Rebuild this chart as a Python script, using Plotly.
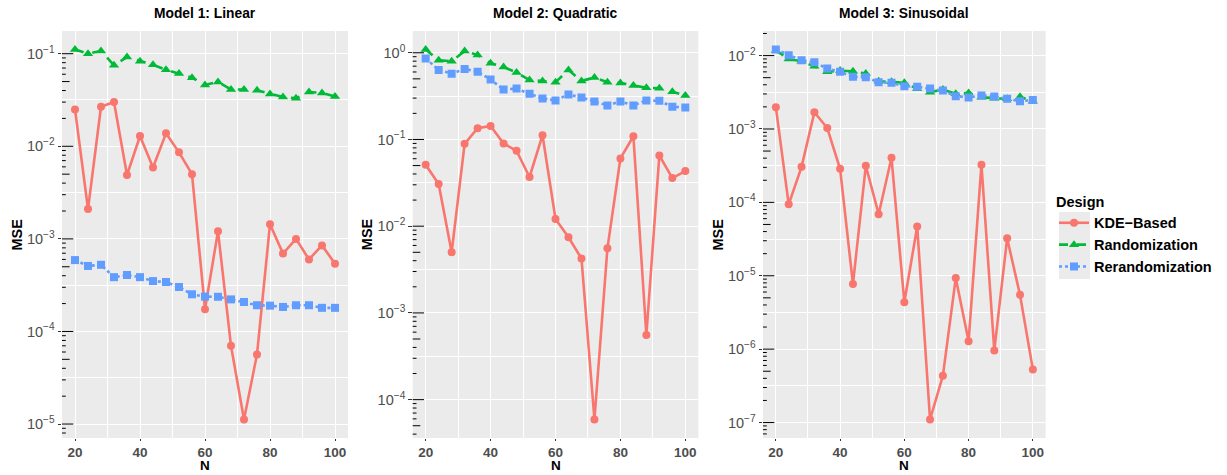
import math
import plotly.graph_objects as go

# ---------------- data ----------------
N = [20, 24, 28, 32, 36, 40, 44, 48, 52, 56, 60, 64, 68, 72, 76, 80, 84, 88, 92, 96, 100]

designs = ["KDE−Based", "Randomization", "Rerandomization"]
panel_titles = ["Model 1: Linear", "Model 2: Quadratic", "Model 3: Sinusoidal"]

linear_kde = [0.025, 0.0021, 0.0267, 0.030, 0.0049, 0.0129, 0.0059, 0.0138, 0.0086, 0.0050,
              1.74e-4, 1.21e-3, 7.0e-5, 1.12e-5, 5.65e-5, 1.44e-3, 6.95e-4, 1.0e-3, 6.0e-4, 8.5e-4, 5.4e-4]
linear_rand = [0.111, 0.100, 0.107, 0.075, 0.092, 0.083, 0.076, 0.067, 0.061, 0.055,
               0.046, 0.0496, 0.041, 0.041, 0.0402, 0.0368, 0.034, 0.033, 0.0386, 0.0377, 0.0345]
linear_rerand = [5.9e-4, 5.1e-4, 5.25e-4, 3.86e-4, 4.07e-4, 3.86e-4, 3.5e-4, 3.42e-4, 3.02e-4, 2.52e-4,
                 2.38e-4, 2.37e-4, 2.22e-4, 2.08e-4, 1.92e-4, 1.9e-4, 1.84e-4, 1.92e-4, 1.92e-4, 1.8e-4, 1.8e-4]

quad_kde = [0.0511, 0.0306, 0.0050, 0.089, 0.135, 0.143, 0.090, 0.074, 0.0369, 0.112,
            0.0121, 0.00745, 0.00424, 5.9e-5, 0.00556, 0.0604, 0.109, 5.56e-4, 0.0653, 0.0359, 0.0432]
quad_rand = [1.09, 0.818, 0.80, 1.045, 0.94, 0.755, 0.686, 0.59, 0.486, 0.473,
             0.457, 0.633, 0.473, 0.517, 0.457, 0.449, 0.418, 0.394, 0.39, 0.354, 0.321]
quad_rerand = [0.861, 0.634, 0.574, 0.65, 0.605, 0.49, 0.377, 0.386, 0.336, 0.297,
               0.282, 0.33, 0.305, 0.274, 0.247, 0.274, 0.247, 0.282, 0.279, 0.238, 0.234]

sin_kde = [0.00198, 9.4e-5, 3.05e-4, 0.00169, 0.00103, 2.87e-4, 7.7e-6, 3.15e-4, 6.9e-5, 4.05e-4,
           4.35e-6, 4.7e-5, 1.1e-7, 4.35e-7, 9.3e-6, 1.28e-6, 3.26e-4, 9.6e-7, 3.24e-5, 5.5e-6, 5.3e-7]
sin_rand = [0.0117, 0.0090, 0.00837, 0.00716, 0.0060, 0.00625, 0.00612, 0.00569, 0.00447, 0.0044,
            0.00425, 0.00352, 0.00317, 0.00344, 0.00301, 0.0031, 0.00271, 0.00262, 0.00258, 0.00274, 0.00239]
sin_rerand = [0.0121, 0.0101, 0.00863, 0.0081, 0.00665, 0.0060, 0.00513, 0.00507, 0.00434, 0.00425,
              0.00383, 0.00375, 0.00356, 0.00334, 0.0028, 0.00269, 0.00286, 0.00277, 0.00258, 0.00239, 0.00249]

x_ticks = [20, 40, 60, 80, 100]

# ---------------- styling ----------------
W, H = 1227, 475
FONT = "Liberation Sans, Arial, Helvetica, sans-serif"
colors = ["#F8766D", "#00BA38", "#619CFF"]
symbols = ["circle", "triangle-up", "square"]
dashes = ["solid", "dash", "dot"]
msizes = [8, 9, 8]

panel_data = [
    [linear_kde, linear_rand, linear_rerand],
    [quad_kde, quad_rand, quad_rerand],
    [sin_kde, sin_rand, sin_rerand],
]
x_px = [(62, 348), (412.7, 698.3), (763, 1045.7)]
y_top_px, y_bot_px = 31, 438
ydom = [1 - y_bot_px / H, 1 - y_top_px / H]

fig = go.Figure()
shapes = []
annotations = []

for p in range(3):
    sfx = "" if p == 0 else str(p + 1)
    xa, ya = "x" + sfx, "y" + sfx
    series = panel_data[p]
    for d in range(3):
        fig.add_trace(go.Scatter(
            x=N, y=series[d], name=designs[d], legendgroup=designs[d],
            showlegend=(p == 0), xaxis=xa, yaxis=ya,
            mode="lines+markers",
            line=dict(color=colors[d], width=2.6, dash=dashes[d]),
            marker=dict(color=colors[d], symbol=symbols[d], size=msizes[d]),
        ))
    allv = [math.log10(v) for s in series for v in s]
    lo, hi = min(allv), max(allv)
    pad = 0.05 * (hi - lo)
    lo, hi = lo - pad, hi + pad
    kmin, kmax = math.ceil(lo), math.floor(hi)
    major = [10.0 ** k for k in range(kmin, kmax + 1)]
    major_txt = ["10<sup>" + str(k).replace("-", "−") + "</sup>" for k in range(kmin, kmax + 1)]
    minor = [10.0 ** (k + 0.5) for k in range(math.floor(lo) - 1, math.ceil(hi) + 1)
             if lo <= k + 0.5 <= hi]

    xd = [x_px[p][0] / W, x_px[p][1] / W]
    fig.update_layout(**{
        ("xaxis" + sfx): dict(
            domain=xd, anchor=ya, range=[16, 104], tickvals=x_ticks,
            ticks="outside", ticklen=2, tickcolor="#333333", tickwidth=1,
            showgrid=True, gridcolor="white", gridwidth=1.1, zeroline=False, showline=False,
            minor=dict(dtick=10, tick0=0, showgrid=True, gridcolor="white", gridwidth=0.55, ticks=""),
            tickfont=dict(family=FONT, size=13.5, color="#4D4D4D", weight="bold"),
            automargin=False,
        ),
        ("yaxis" + sfx): dict(
            domain=ydom, anchor=xa, type="log", range=[lo, hi],
            tickmode="array", tickvals=major, ticktext=major_txt,
            ticks="outside", ticklen=3.5, tickcolor="#333333", tickwidth=1,
            showgrid=True, gridcolor="white", gridwidth=1.1, zeroline=False, showline=False,
            minor=dict(tickmode="array", tickvals=minor, showgrid=True, gridcolor="white",
                       gridwidth=0.55, ticks=""),
            tickfont=dict(family=FONT, size=14.5, color="#4D4D4D"),
            automargin=False,
        ),
    })
    # panel background
    shapes.append(dict(type="rect", xref=xa + " domain", yref=ya + " domain",
                       x0=0, x1=1, y0=0, y1=1, fillcolor="#EBEBEB", line=dict(width=0),
                       layer="below"))
    # annotation_logticks style ticks on the left, inside the panel
    for k in range(math.floor(lo), math.ceil(hi) + 1):
        for m in range(1, 10):
            v = m * 10.0 ** k
            lv = math.log10(v)
            if not (lo <= lv <= hi):
                continue
            ln = 11.3 if m == 1 else (7.6 if m == 5 else 3.8)
            shapes.append(dict(type="line", xref=xa + " domain", yref=ya,
                               xsizemode="pixel", xanchor=0, x0=0, x1=ln,
                               y0=v, y1=v, line=dict(color="black", width=1)))
    # titles
    cx = (xd[0] + xd[1]) / 2
    annotations.append(dict(text="<b>" + panel_titles[p] + "</b>", xref="paper", yref="paper",
                            x=cx, y=1 - 13 / H, showarrow=False, xanchor="center", yanchor="middle",
                            font=dict(family=FONT, size=13.8, color="black")))
    annotations.append(dict(text="<b>N</b>", xref="paper", yref="paper",
                            x=cx, y=0, showarrow=False, xanchor="center", yanchor="bottom",
                            font=dict(family=FONT, size=13.5, color="black")))
    annotations.append(dict(text="<b>MSE</b>", xref="paper", yref="paper",
                            x=(x_px[p][0] - 45) / W, y=(ydom[0] + ydom[1]) / 2, textangle=-90,
                            showarrow=False, xanchor="center", yanchor="middle",
                            font=dict(family=FONT, size=14.5, color="black")))

# legend key background
shapes.append(dict(type="rect", xref="paper", yref="paper",
                   x0=1059 / W, x1=1090 / W, y0=1 - 279 / H, y1=1 - 212 / H,
                   fillcolor="#EBEBEB", line=dict(width=0), layer="below"))

fig.update_layout(
    width=W, height=H,
    margin=dict(l=0, r=0, t=0, b=0),
    paper_bgcolor="white", plot_bgcolor="rgba(0,0,0,0)",
    font=dict(family=FONT, color="black"),
    shapes=shapes, annotations=annotations,
    legend=dict(
        x=1054 / W, y=1 - 188 / H, xanchor="left", yanchor="top",
        title=dict(text="<b>Design</b>", font=dict(family=FONT, size=14.5, color="black")),
        font=dict(family=FONT, size=14.5, color="black", weight="bold"),
        bgcolor="rgba(0,0,0,0)", tracegroupgap=0, itemwidth=30,
    ),
)

fig.write_html("out.html", config={"displayModeBar": False},
               post_script="document.body.style.margin='0';document.body.style.overflow='hidden';")
